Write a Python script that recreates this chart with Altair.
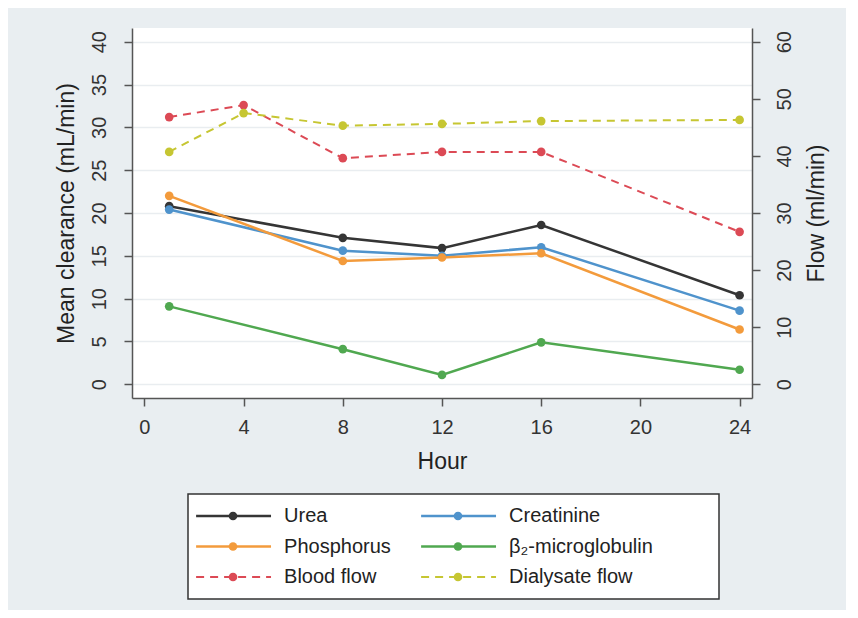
import altair as alt
import pandas as pd

FONT = "Liberation Sans"
BG = "#e9eef1"

# ---- data ----
clear_hours = [1, 8, 12, 16, 24]
urea = [20.8, 17.1, 15.9, 18.6, 10.4]
creatinine = [20.4, 15.6, 15.0, 16.0, 8.6]
phosphorus = [22.0, 14.4, 14.8, 15.3, 6.4]
b2m = [9.1, 4.1, 1.1, 4.9, 1.7]

flow_hours = [1, 4, 8, 12, 16, 24]
blood_flow = [46.8, 48.9, 39.6, 40.7, 40.7, 26.7]
dialysate_flow = [40.7, 47.5, 45.3, 45.6, 46.1, 46.3]

series_names = ["Urea", "Creatinine", "Phosphorus", "\u03b2\u2082-microglobulin",
                "Blood flow", "Dialysate flow"]
series_colors = ["#353535", "#4f93cc", "#f39b3c", "#50a850", "#dc4a55", "#c6c632"]
legend_col = [0, 1, 0, 1, 0, 1]
legend_row = [0, 0, 1, 1, 2, 2]
legend_dashed = [False, False, False, False, True, True]

x_ticks = [0, 4, 8, 12, 16, 20, 24]
left_ticks = [0, 5, 10, 15, 20, 25, 30, 35, 40]
right_ticks = [0, 10, 20, 30, 40, 50, 60]

rows = []
for name, vals in zip(series_names[:4], [urea, creatinine, phosphorus, b2m]):
    for h, v in zip(clear_hours, vals):
        rows.append({"series": name, "hour": h, "value": v})
clear_df = pd.DataFrame(rows)

rows = []
for name, vals in zip(series_names[4:], [blood_flow, dialysate_flow]):
    for h, v in zip(flow_hours, vals):
        rows.append({"series": name, "hour": h, "value": v})
flow_df = pd.DataFrame(rows)

color_scale = alt.Scale(domain=series_names, range=series_colors)

x_enc = alt.X("hour:Q", scale=alt.Scale(domain=[-0.5, 24.5], nice=False, zero=False),
              axis=alt.Axis(values=x_ticks, title="Hour", grid=False, domainColor="#555555",
                            tickColor="#555555", tickSize=8, labelFontSize=20, titleFontSize=23,
                            labelPadding=11, titlePadding=13, domainWidth=1.5, tickWidth=1.5,
                            labelColor="#333333", titleColor="#222222", titleFontWeight="normal"))

y_left = alt.Y("value:Q", scale=alt.Scale(domain=[-1.6, 41.6], nice=False, zero=False),
               axis=alt.Axis(values=left_ticks, title="Mean clearance (mL/min)", orient="left",
                             grid=True, gridColor="#e9edf0", gridWidth=1.5,
                             domainColor="#555555", tickColor="#555555", tickSize=8,
                             domainWidth=1.5, tickWidth=1.5,
                             labelAngle=-90, labelAlign="center", labelBaseline="bottom",
                             labelFontSize=20, labelPadding=15, titleFontSize=23,
                             titlePadding=11, labelColor="#333333", titleColor="#222222",
                             titleFontWeight="normal"))

y_right = alt.Y("value:Q", scale=alt.Scale(domain=[-2.4, 62.4], nice=False, zero=False),
                axis=alt.Axis(values=right_ticks, title="Flow (ml/min)", orient="right",
                              grid=False, domainColor="#555555", tickColor="#555555", tickSize=8,
                              domainWidth=1.5, tickWidth=1.5,
                              labelAngle=-90, labelAlign="center", labelBaseline="top",
                              labelFontSize=20, labelPadding=14, titleFontSize=23,
                              titleAngle=-90, titleBaseline="top",
                              titlePadding=11, labelColor="#333333", titleColor="#222222",
                              titleFontWeight="normal"))

color_enc = alt.Color("series:N", scale=color_scale, legend=None)

clear_base = alt.Chart(clear_df)
clear_layer = alt.layer(
    clear_base.mark_line(strokeWidth=2.5).encode(x=x_enc, y=y_left, color=color_enc, detail="series:N"),
    clear_base.mark_point(filled=True, size=75, opacity=1).encode(x=x_enc, y=y_left, color=color_enc),
)

flow_base = alt.Chart(flow_df)
flow_layer = alt.layer(
    flow_base.mark_line(strokeWidth=2, strokeDash=[8, 6]).encode(x=x_enc, y=y_right, color=color_enc, detail="series:N"),
    flow_base.mark_point(filled=True, size=75, opacity=1).encode(x=x_enc, y=y_right, color=color_enc),
)

main = alt.layer(clear_layer, flow_layer).resolve_scale(y="independent").properties(
    width=620, height=370, view=alt.ViewBackground(fill="white", stroke=None)
)

# ---- legend panel ----
leg_df = pd.DataFrame({"series": series_names, "col": legend_col, "row": legend_row,
                       "dashed": legend_dashed})
lx = alt.Scale(domain=[0, 2.36], range=[0, 531], nice=False, zero=False)
ly = alt.Scale(domain=[-0.72, 2.72], range=[0, 105], nice=False, zero=False)
leg_base = alt.Chart(leg_df).transform_calculate(
    x0="datum.col + 0.036", x1="datum.col + 0.369", xm="datum.col + 0.2", xt="datum.col + 0.427"
)
leg_color = alt.Color("series:N", scale=color_scale, legend=None)
# a background-coloured right axis label only widens the panel so centring puts the box under the plot
leg_y_axis = alt.Axis(values=[1], labelExpr="'00'", labelColor=BG, orient="right", domain=False,
                      ticks=False, grid=False, title=None, labelFontSize=20, labelPadding=30)
leg_solid = leg_base.transform_filter("!datum.dashed").mark_rule(strokeWidth=2.5).encode(
    x=alt.X("x0:Q", scale=lx, axis=None), x2="x1:Q",
    y=alt.Y("row:Q", scale=ly, axis=leg_y_axis), color=leg_color)
leg_dash = leg_base.transform_filter("datum.dashed").mark_rule(strokeWidth=2, strokeDash=[8, 6]).encode(
    x=alt.X("x0:Q", scale=lx, axis=None), x2="x1:Q",
    y=alt.Y("row:Q", scale=ly, axis=leg_y_axis), color=leg_color)
leg_pts = leg_base.mark_point(filled=True, size=75, opacity=1).encode(
    x=alt.X("xm:Q", scale=lx, axis=None), y=alt.Y("row:Q", scale=ly, axis=leg_y_axis), color=leg_color)
leg_txt = leg_base.mark_text(align="left", baseline="middle", fontSize=20, font=FONT,
                             color="#222222").encode(
    x=alt.X("xt:Q", scale=lx, axis=None), y=alt.Y("row:Q", scale=ly, axis=leg_y_axis), text="series:N")

legend = alt.layer(leg_solid, leg_dash, leg_pts, leg_txt).properties(
    width=531, height=105, view=alt.ViewBackground(fill="white", stroke="#333333", strokeWidth=1.5)
)

chart = alt.vconcat(main, legend, spacing=20, center=True).properties(
    background=BG,
    padding={"left": 47, "top": 20, "right": 18, "bottom": 10},
).configure(font=FONT)

chart.save("out.html", embed_options={"renderer": "svg", "actions": False})
